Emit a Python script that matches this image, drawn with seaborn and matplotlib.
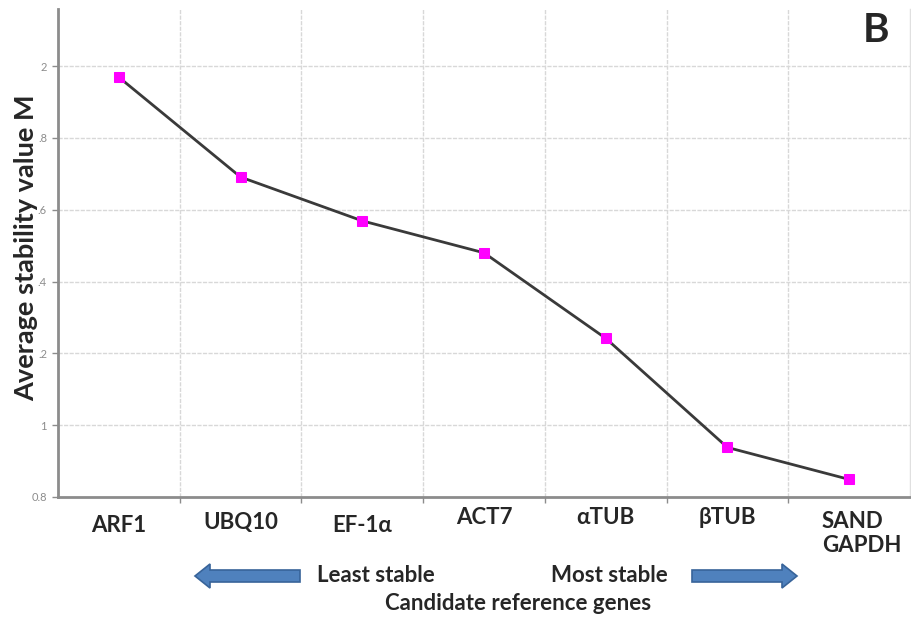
import matplotlib
matplotlib.use("Agg")
import matplotlib.pyplot as plt
from matplotlib.patches import Polygon
import numpy as np
import pandas as pd
import seaborn as sns

# Candidate reference genes ranked by geNorm average expression stability (M)
genes = ["ARF1", "UBQ10", "EF-1\u03b1", "ACT7", "\u03b1TUB", "\u03b2TUB", "SAND\nGAPDH"]
m_values = [1.969, 1.691, 1.569, 1.480, 1.242, 0.938, 0.849]
y_ticks = [0.8, 1.0, 1.2, 1.4, 1.6, 1.8, 2.0]
# the leading "1" of the 1.x labels sits under the axis title, so only the
# fractional part is printed
y_tick_labels = ["0.8", "1", ".2", ".4", ".6", ".8", "2"]

sns.set_style("white")
plt.rcParams["font.family"] = ["Lato", "DejaVu Sans"]

W, H = 912, 617
fig = plt.figure(figsize=(W / 100, H / 100), dpi=100)
ax = fig.add_axes([58 / W, 1 - 497 / H, (910 - 58) / W, (497 - 9) / H])

df = pd.DataFrame({"pos": np.arange(len(genes)), "M": m_values})
sns.lineplot(data=df, x="pos", y="M", ax=ax, color="#3a3a3a", linewidth=2.0,
             marker="s", markersize=7, markerfacecolor="#ff00ff",
             markeredgecolor="#ff00ff", zorder=3)

ax.set_xlim(-0.5, len(genes) - 0.5)
ax.set_ylim(0.8, 2.159)

# grid: horizontal at y ticks, vertical at category boundaries
grid_kw = dict(color="#d8d8d8", linewidth=1.0, linestyle=(0, (3, 1)), zorder=0)
for y in y_ticks[1:]:
    ax.axhline(y, **grid_kw)
for b in np.arange(0.5, len(genes) - 0.5, 1.0):
    ax.axvline(b, **grid_kw)

ax.set_yticks(y_ticks)
ax.set_yticklabels(y_tick_labels)
ax.tick_params(axis="y", length=4, width=1, color="#8c8c8c", labelsize=8,
               labelcolor="#8c8c8c", pad=4, left=True)
ax.set_xticks(np.arange(0.5, len(genes) - 0.5, 1.0))
ax.set_xticklabels([])
ax.tick_params(axis="x", length=4, width=1, color="#8c8c8c", bottom=True, direction="out")

for side in ["left", "bottom"]:
    ax.spines[side].set_color("#8c8c8c")
    ax.spines[side].set_linewidth(2.0)
ax.spines["top"].set_visible(False)
ax.spines["right"].set_color("#e0e0e0")
ax.spines["right"].set_linewidth(1.0)
ax.set_xlabel("")
ax.set_ylabel("")

# category names below the axis (vertical centre of each, in pixels from top)
label_rows = [526, 523, 525, 518, 517, 518, 511]
for i, (g, yp) in enumerate(zip(genes, label_rows)):
    if "\n" in g:
        fig.text(822 / W, 1 - yp / H, g, ha="left", va="top",
                 fontsize=16, fontweight="bold", linespacing=1.2)
    else:
        xd = ax.transData.transform((i, 0))[0] / W
        fig.text(xd, 1 - yp / H, g, ha="center", va="center",
                 fontsize=16, fontweight="bold")

# y-axis title
fig.text(26 / W, 1 - 248 / H, "Average stability value M", rotation=90,
         ha="center", va="center", fontsize=19.5, fontweight="bold")

# panel letter
fig.text(876 / W, 1 - 31 / H, "B", ha="center", va="center",
         fontsize=29, fontweight="bold")

# stability direction annotations
fig.text(376 / W, 1 - 576 / H, "Least stable", ha="center", va="center",
         fontsize=16, fontweight="bold")
fig.text(609 / W, 1 - 575 / H, "Most stable", ha="center", va="center",
         fontsize=16, fontweight="bold")
fig.text(518 / W, 1 - 604 / H, "Candidate reference genes", ha="center",
         va="center", fontsize=16, fontweight="bold")


def block_arrow(x_tail, x_tip, y, shaft=6, head=12, head_len=15):
    d = 1 if x_tip > x_tail else -1
    xb = x_tip - d * head_len
    pts = [(x_tail, y - shaft), (xb, y - shaft), (xb, y - head), (x_tip, y),
           (xb, y + head), (xb, y + shaft), (x_tail, y + shaft)]
    pts = [(px / 100, (H - py) / 100) for px, py in pts]
    fig.patches.append(Polygon(pts, closed=True, transform=fig.dpi_scale_trans,
                               facecolor="#4f81bd", edgecolor="#38649a",
                               linewidth=1.2))


block_arrow(300, 195, 576)
block_arrow(692, 797, 576)

fig.savefig("out.png", dpi=100)
